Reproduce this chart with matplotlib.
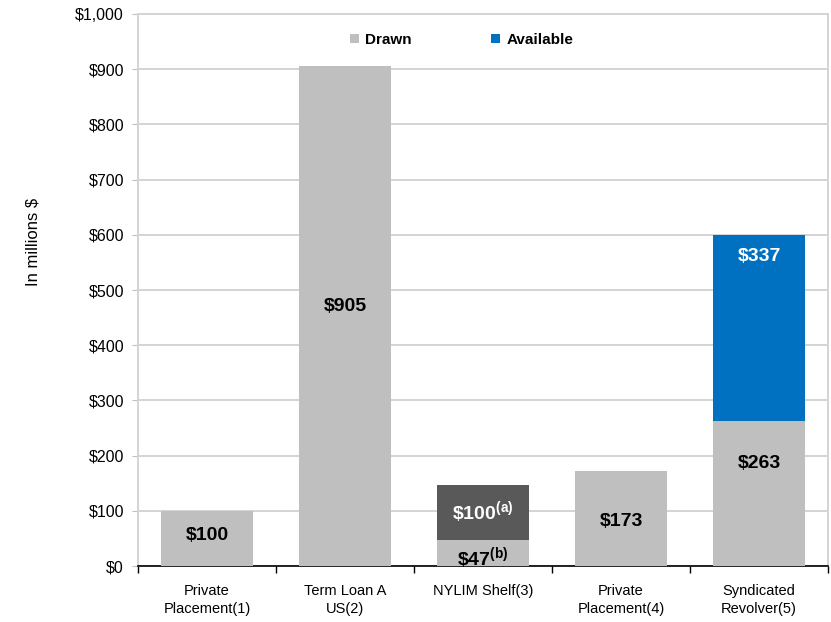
import numpy as np
import matplotlib
matplotlib.use('Agg')
import matplotlib.pyplot as plt
from matplotlib.ticker import FuncFormatter

plt.rcParams['font.family'] = ['Liberation Sans', 'DejaVu Sans']
plt.rcParams['mathtext.fontset'] = 'custom'
plt.rcParams['mathtext.rm'] = 'Liberation Sans'
plt.rcParams['mathtext.bf'] = 'Liberation Sans:bold'

# 数据
categories = ['Private\nPlacement(1)', 'Term Loan A\nUS(2)', 'NYLIM Shelf(3)',
              'Private\nPlacement(4)', 'Syndicated\nRevolver(5)']
drawn = [100, 905, 47, 173, 263]
shelf = [0, 0, 100, 0, 0]          # NYLIM 未使用额度
available = [0, 0, 0, 0, 337]
notes = ['', '', '(b)', '', '']

# 标签放置高度
drawn_label_y = [56, 470, 14, 80, 185]

gray = '#BFBFBF'
dark = '#595959'
blue = '#0070C0'

fig = plt.figure(figsize=(8.31, 6.22), dpi=100)
ax = fig.add_axes([138 / 831, 1 - 566 / 622, 690 / 831, 552 / 622])

x = np.arange(len(categories))
w = 0.667
ax.bar(x, drawn, width=w, color=gray, label='Drawn', zorder=3)
ax.bar(x, shelf, width=w, bottom=drawn, color=dark, zorder=3)
ax.bar(x, available, width=w, bottom=drawn, color=blue, label='Available', zorder=3)

# 数据标签
for i, (v, n, yl) in enumerate(zip(drawn, notes, drawn_label_y)):
    txt = f'\\${v}' + (f'$^{{\\mathbf{{{n}}}}}$' if n else '')
    ax.text(i, yl, txt, ha='center', va='center', fontsize=14,
            fontweight='bold', color='black', zorder=4)

ax.text(2, drawn[2] + shelf[2] / 2, f'\\${shelf[2]}' + r'$^{\mathbf{(a)}}$',
        ha='center', va='center', fontsize=14, fontweight='bold', color='white', zorder=4)
ax.text(4, drawn[4] + available[4] - 40, f'\\${available[4]}', ha='center', va='center',
        fontsize=14, fontweight='bold', color='white', zorder=4)

ax.set_xlim(-0.5, len(categories) - 0.5)
ax.set_ylim(0, 1000)
ax.set_yticks(np.arange(0, 1001, 100))
ax.yaxis.set_major_formatter(FuncFormatter(lambda v, p: f'${v:,.0f}'))
ax.grid(axis='y', color='#D4D4D4', linewidth=1.4, zorder=0)
ax.tick_params(axis='y', length=4, color='#BFBFBF', labelsize=11.5, pad=6)

ax.set_xticks(x)
ax.set_xticklabels(categories, fontsize=10.5, linespacing=1.35)
ax.set_xticks(np.arange(-0.5, len(categories), 1), minor=True)
ax.tick_params(axis='x', which='major', length=0, pad=13)
ax.tick_params(axis='x', which='minor', length=5, width=1, color='black', direction='out')

for s in ['left', 'right', 'top']:
    ax.spines[s].set_color('#D4D4D4')
    ax.spines[s].set_linewidth(1.4)
ax.spines['bottom'].set_color('black')
ax.spines['bottom'].set_linewidth(1.2)

ax.set_ylabel('In millions $', fontsize=12)
ax.yaxis.set_label_coords(-0.142, 0.587)

ax.legend(loc='center', bbox_to_anchor=(0.469, 0.953), ncol=2, frameon=False,
          prop={'weight': 'bold', 'size': 11}, handlelength=0.6, handleheight=0.6,
          handletextpad=0.4, columnspacing=5.2)

fig.savefig('out.png', dpi=100)
